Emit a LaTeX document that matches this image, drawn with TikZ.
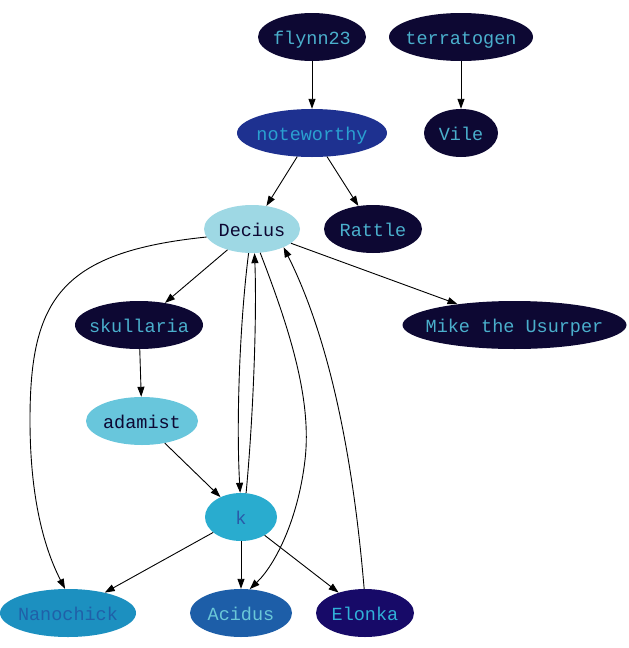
\documentclass[tikz,border=0pt]{standalone}
\usepackage{fontspec}
\newfontfamily\gvmono{Liberation Mono}
\usetikzlibrary{shapes.geometric,arrows.meta}
\definecolor{cdark}{HTML}{0D0833}
\definecolor{ccyan}{HTML}{4AAFCC}
\definecolor{cnote}{HTML}{1E3190}
\definecolor{cnotet}{HTML}{2AA0D0}
\definecolor{cdec}{HTML}{9ED8E4}
\definecolor{cada}{HTML}{68C6DC}
\definecolor{ck}{HTML}{29ACCF}
\definecolor{ckt}{HTML}{2A5AA8}
\definecolor{cnano}{HTML}{1C90C0}
\definecolor{cnanot}{HTML}{2060A8}
\definecolor{caci}{HTML}{1D5EA8}
\definecolor{cacit}{HTML}{6AC8D8}
\definecolor{celo}{HTML}{170A68}
\definecolor{celot}{HTML}{30B0D8}
\newcommand{\gvt}[1]{\raisebox{-7.5pt}[0pt][0pt]{\makebox[0pt]{#1}}}
\tikzset{
  gv/.style={ellipse, draw=none, inner sep=0pt, minimum height=48pt,
    font=\gvmono\fontsize{18.5}{20}\selectfont},
  darknode/.style={gv, fill=cdark, text=ccyan},
  edge/.style={draw=black, line width=0.9pt, -{Triangle[length=10pt,width=7pt]}},
}
\begin{document}
\begin{tikzpicture}[x=1pt,y=-1pt]
\useasboundingbox (0,0) rectangle (629,648);
\node[darknode, minimum width=108pt] (flynn) at (312,37) {\gvt{flynn23}};
\node[darknode, minimum width=144pt] (terra) at (461,37) {\gvt{terratogen}};
\node[gv, fill=cnote, text=cnotet, minimum width=150pt] (note) at (312,133) {\gvt{noteworthy}};
\node[darknode, minimum width=74pt] (vile) at (461,133) {\gvt{Vile}};
\node[gv, fill=cdec, text=cdark, minimum width=96pt] (dec) at (252,229) {\gvt{Decius}};
\node[darknode, minimum width=98pt] (rat) at (373,229) {\gvt{Rattle}};
\node[darknode, minimum width=128pt] (sku) at (139,325) {\gvt{skullaria}};
\node[darknode, minimum width=224pt] (mike) at (514.5,325) {\gvt{Mike the Usurper}};
\node[gv, fill=cada, text=cdark, minimum width=112pt] (ada) at (142,421) {\gvt{adamist}};
\node[gv, fill=ck, text=ckt, minimum width=72pt] (k) at (241,517) {\gvt{k}};
\node[gv, fill=cnano, text=cnanot, minimum width=136pt] (nano) at (68,613) {\gvt{Nanochick}};
\node[gv, fill=caci, text=cacit, minimum width=102pt] (aci) at (241,613) {\gvt{Acidus}};
\node[gv, fill=celo, text=celot, minimum width=98pt] (elo) at (365,613) {\gvt{Elonka}};

\draw[edge] (flynn) -- (note);
\draw[edge] (terra) -- (vile);
\draw[edge] (note) -- (dec);
\draw[edge] (note) -- (rat);
\draw[edge] (dec) -- (sku);
\draw[edge] (dec) -- (mike);
\draw[edge] (sku) -- (ada);
\draw[edge] (ada) -- (k);
\draw[edge] (k) -- (nano);
\draw[edge] (k) -- (aci);
\draw[edge] (k) -- (elo);
\draw[edge] (dec.-170) .. controls (60,252) and (30,300) .. (30,420) .. controls (30,500) and (45,550) .. (nano.97);
\draw[edge] (dec.-98) .. controls (240,320) and (236,420) .. (k.92);
\draw[edge] (k.78) .. controls (253,420) and (257,320) .. (dec.-84);
\draw[edge] (dec.-71) .. controls (290,330) and (312,400) .. (305,460) .. controls (298,520) and (275,565) .. (aci.70);
\draw[edge] (elo.92) .. controls (355,480) and (335,350) .. (dec.-30);
\end{tikzpicture}
\end{document}
